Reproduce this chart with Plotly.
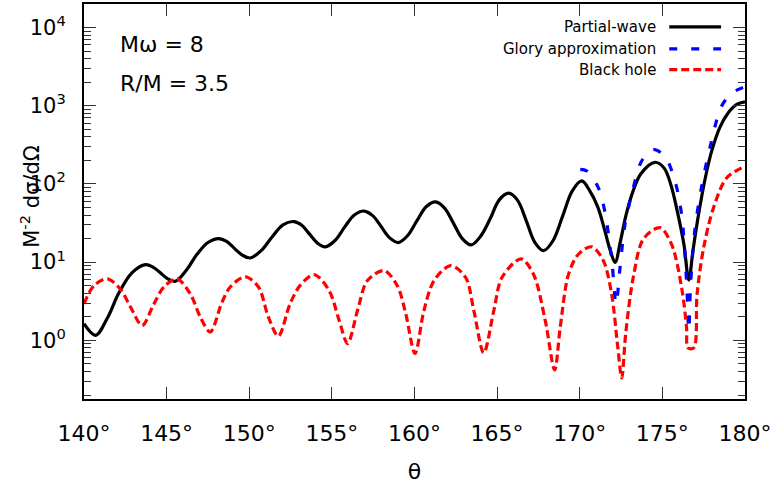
import plotly.graph_objects as go

# Partial-wave cross section
pw_theta = [140.0, 140.7, 141.4, 142.1, 142.9, 143.72, 144.17, 144.62, 145.08, 145.53,
            146.18, 146.84, 147.5, 148.15, 148.63, 149.1, 149.58, 150.06,
            150.72, 151.38, 152.04, 152.7, 153.18, 153.65, 154.13, 154.6,
            155.19, 155.78, 156.36, 156.95, 157.47, 157.99, 158.5, 159.02,
            159.59, 160.15, 160.72, 161.28, 161.82, 162.36, 162.89, 163.43,
            164.0, 164.57, 165.13, 165.7, 166.23, 166.76, 167.28, 167.81,
            168.39, 168.97, 169.54, 170.12, 170.6, 171.1, 171.5, 171.85, 172.14,
            172.45, 172.8, 173.2, 173.7, 174.55, 175.1, 175.5, 175.9, 176.3, 176.6,
            176.85, 177.2, 177.6, 178.0, 178.5, 179.0, 179.5, 180.0]
pw_value = [1.63, 1.16, 1.9, 4.0, 7.3, 9.3, 8.65, 7.3, 6.1, 5.7,
            7.8, 12.6, 17.8, 20.0, 18.4, 15.0, 12.3, 11.3,
            14.0, 21.0, 30.0, 33.0, 29.6, 22.8, 17.5, 15.7,
            18.9, 28.2, 40.0, 45.0, 39.3, 28.3, 20.4, 17.8,
            21.9, 33.9, 51.4, 59.0, 49.1, 31.3, 20.0, 16.6,
            21.4, 35.5, 62.5, 76.0, 62.0, 34.0, 17.9, 14.0,
            18.9, 39.0, 80.7, 109.0, 82.0, 50.0, 26.0, 14.0, 9.9,
            18.0, 40.0, 78.0, 135.0, 189.0, 160.0, 100.0, 45.0, 17.0, 5.9,
            14.0, 42.0, 120.0, 270.0, 540.0, 820.0, 1040.0, 1120.0]

# Glory approximation
gl_theta = [170.03, 170.43, 171.13, 171.53, 171.94, 172.2, 172.44, 172.74, 173.24, 173.74, 174.45,
            175.15, 175.76, 176.16, 176.46, 176.6, 176.7, 176.96, 177.36, 177.97, 178.57, 179.2, 180.0]
gl_value = [153.0, 146.0, 89.0, 43.0, 10.4, 2.9, 8.6, 30.5, 89.0, 195.0, 275.0,
            226.0, 109.0, 41.0, 5.8, 1.34, 4.8, 25.0, 89.0, 350.0, 975.0, 1450.0, 1750.0]

# Black hole
bh_theta = [140.0, 140.6, 141.41, 142.21, 142.82, 143.52, 144.22, 144.83, 145.63, 146.44, 147.04,
            147.64, 148.35, 148.85, 149.75, 150.56, 151.16, 151.76, 152.47, 153.07, 153.94, 154.84,
            155.44, 155.95, 156.55, 157.15, 158.16, 158.96, 159.47, 160.03, 160.57, 161.18, 162.18,
            163.09, 163.59, 164.19, 164.8, 165.3, 166.45, 167.2, 167.91, 168.48, 168.82, 169.32,
            169.92, 170.73, 171.43, 171.93, 172.3, 172.54, 172.78, 173.24, 173.85, 174.85, 175.55,
            176.16, 176.46, 176.55, 176.9, 177.1, 177.5, 178.1, 178.9, 180.0]
bh_value = [2.93, 5.0, 6.1, 4.5, 2.65, 1.55, 2.9, 4.8, 6.1, 3.9, 1.98,
            1.28, 3.07, 4.8, 6.5, 4.8, 1.98, 1.13, 2.93, 5.0, 6.9, 4.3,
            1.8, 0.91, 2.4, 5.8, 7.8, 5.0, 2.19, 0.68, 2.4, 5.8, 9.0,
            6.4, 2.4, 0.69, 2.4, 6.4, 11.0, 7.0, 1.8, 0.42, 1.48, 7.0,
            12.6, 15.7, 10.4, 3.9, 0.82, 0.33, 1.22, 6.4, 19.7, 27.6, 17.0,
            4.8, 1.48, 0.8, 0.8, 3.9, 15.4, 50.0, 120.0, 168.0]

x_ticks = [140, 145, 150, 155, 160, 165, 170, 175, 180]
x_labels = [f"{t}°" for t in x_ticks]
y_ticks = [1, 10, 100, 1000, 10000]
y_labels = ["10<sup>0</sup>", "10<sup>1</sup>", "10<sup>2</sup>", "10<sup>3</sup>", "10<sup>4</sup>"]
y_minor = [m * 10 ** k for k in range(-1, 5) for m in range(2, 10)]

series_names = ["Partial-wave", "Glory approximation", "Black hole"]
FONT = "DejaVu Sans"

styles = [
    dict(color="black", width=3.2, dash="solid", smoothing=1.0),
    dict(color="#0000ff", width=3.2, dash="8px,14px", smoothing=0.9),
    dict(color="#ff0000", width=3.2, dash="8px,4px", smoothing=0.9),
]

fig = go.Figure()
for xs, ys, st in [(pw_theta, pw_value, styles[0]),
                   (gl_theta, gl_value, styles[1]),
                   (bh_theta, bh_value, styles[2])]:
    fig.add_trace(go.Scatter(x=xs, y=ys, mode="lines", showlegend=False,
                             line=dict(color=st["color"], width=st["width"], dash=st["dash"],
                                       shape="spline", smoothing=st["smoothing"])))

# key drawn with the text to the left of each sample line
key_rows = [0.9421, 0.8866, 0.8338]
for name, yk, st in zip(series_names, key_rows, styles):
    fig.add_annotation(x=0.8688, y=yk, xref="paper", yref="paper", text=name,
                       showarrow=False, xanchor="right", yanchor="middle",
                       font=dict(family=FONT, size=15, color="black"))
    fig.add_shape(type="line", xref="paper", yref="paper", x0=0.8854, x1=0.9638, y0=yk, y1=yk,
                  line=dict(color=st["color"], width=st["width"], dash=st["dash"]))

fig.add_annotation(x=0.0513, y=0.8967, xref="paper", yref="paper", text="Mω = 8",
                   showarrow=False, xanchor="left", yanchor="middle",
                   font=dict(family=FONT, size=22, color="black"))
fig.add_annotation(x=0.0513, y=0.7985, xref="paper", yref="paper", text="R/M = 3.5",
                   showarrow=False, xanchor="left", yanchor="middle",
                   font=dict(family=FONT, size=22, color="black"))
fig.add_annotation(x=-0.082, y=0.514, xref="paper", yref="paper",
                   text="M<sup>-2</sup> dσ/dΩ", textangle=-90, showarrow=False,
                   xanchor="center", yanchor="middle",
                   font=dict(family=FONT, size=21, color="black"))

fig.update_layout(
    width=774, height=493,
    margin=dict(l=84, r=27, t=2, b=94),
    paper_bgcolor="white", plot_bgcolor="white",
    font=dict(family=FONT, color="black"),
    showlegend=False,
)
fig.update_xaxes(
    range=[140, 180], tickmode="array", tickvals=x_ticks, ticktext=x_labels,
    ticks="inside", ticklen=12, tickwidth=1.3, tickcolor="#333",
    showline=True, linecolor="black", linewidth=2, mirror="allticks",
    showgrid=False, zeroline=False, ticklabelstandoff=14,
    tickfont=dict(family=FONT, size=22),
    title=dict(text="θ", font=dict(family=FONT, size=22), standoff=18),
)
fig.update_yaxes(
    type="log", range=[-0.75, 4.3], tickmode="array", tickvals=y_ticks, ticktext=y_labels,
    ticks="inside", ticklen=12, tickwidth=1.3, tickcolor="#333",
    minor=dict(tickmode="array", tickvals=y_minor, ticks="inside", ticklen=7,
               tickwidth=1.3, tickcolor="#333", showgrid=False),
    showline=True, linecolor="black", linewidth=2, mirror="allticks",
    showgrid=False, zeroline=False, ticklabelstandoff=12,
    tickfont=dict(family=FONT, size=21),
)

fig.write_html("out.html")
